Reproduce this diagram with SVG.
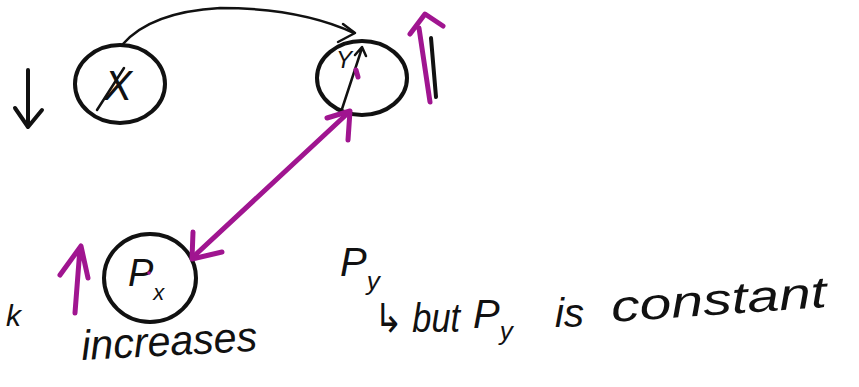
<svg xmlns="http://www.w3.org/2000/svg" width="859" height="387" viewBox="0 0 859 387">
<style>
.ink{fill:none;stroke:#111;stroke-width:4;stroke-linecap:round;stroke-linejoin:round}
.thin{fill:none;stroke:#111;stroke-width:2.5;stroke-linecap:round;stroke-linejoin:round}
.pur{fill:none;stroke:#a01590;stroke-width:5;stroke-linecap:round;stroke-linejoin:round}
.hand{font-family:"Liberation Sans","DejaVu Sans",sans-serif;font-style:italic;fill:#111}
</style>
<rect width="859" height="387" fill="#fff"/>
<g id="node-x">
  <ellipse class="ink" cx="120" cy="84" rx="45" ry="39"/>
  <path class="thin" d="M97,110 L124,68"/>
  <text class="hand" x="104" y="100" font-size="42">X</text>
</g>
<g id="node-y">
  <ellipse class="ink" cx="362" cy="78" rx="45" ry="37"/>
  <text class="hand" x="336" y="68" font-size="24">Y</text>
</g>
<g id="node-px">
  <ellipse class="ink" cx="150" cy="278" rx="46" ry="44"/>
  <text class="hand" x="128" y="286" font-size="38">P<tspan font-size="22" dy="14">x</tspan></text>
  <circle cx="149" cy="273" r="1.8" fill="#a01590"/>
</g>
<g id="labels">
  <text class="hand" x="6" y="326" font-size="30">k</text>
  <text class="hand" x="82" y="360" font-size="42" textLength="176" lengthAdjust="spacingAndGlyphs" transform="rotate(-3 82 360)">increases</text>
  <text class="hand" x="340" y="276" font-size="40">P<tspan font-size="26" dy="14">y</tspan></text>
  <text class="hand" x="374" y="332" font-size="40" textLength="86" lengthAdjust="spacingAndGlyphs">↳ but</text>
  <text class="hand" x="473" y="328" font-size="40">P<tspan font-size="26" dy="12">y</tspan></text>
  <text class="hand" x="555" y="327" font-size="40">is</text>
  <text class="hand" x="612" y="322" font-size="44" textLength="216" lengthAdjust="spacingAndGlyphs" transform="rotate(-4 612 322)">constant</text>
</g>
<g id="connectors">
  <path class="ink" d="M28,70 L28,126 M15,108 L28,127 L42,110"/>
  <path class="thin" d="M122,45 Q150,12 220,8 Q300,8 354,33"/>
  <path class="thin" d="M343,24 L355,33 L338,42"/>
  <path class="thin" d="M342,109 L362,48 M355,55 L362,47 L366,56"/>
  <path class="pur" d="M356,70 L358,77" stroke-width="3"/>
  <path class="ink" d="M431,38 L436,97"/>
  <path class="pur" d="M430,102 L419,28 M410,34 L425,14 L443,26"/>
  <path class="pur" d="M348,113 L193,257"/>
  <path class="pur" d="M327,118 L350,111 L348,140" stroke-width="7"/>
  <path class="pur" d="M193,232 L192,259 L222,252"/>
  <path class="pur" d="M75,313 L80,248 M60,275 L81,246 L88,278"/>
</g>
</svg>
